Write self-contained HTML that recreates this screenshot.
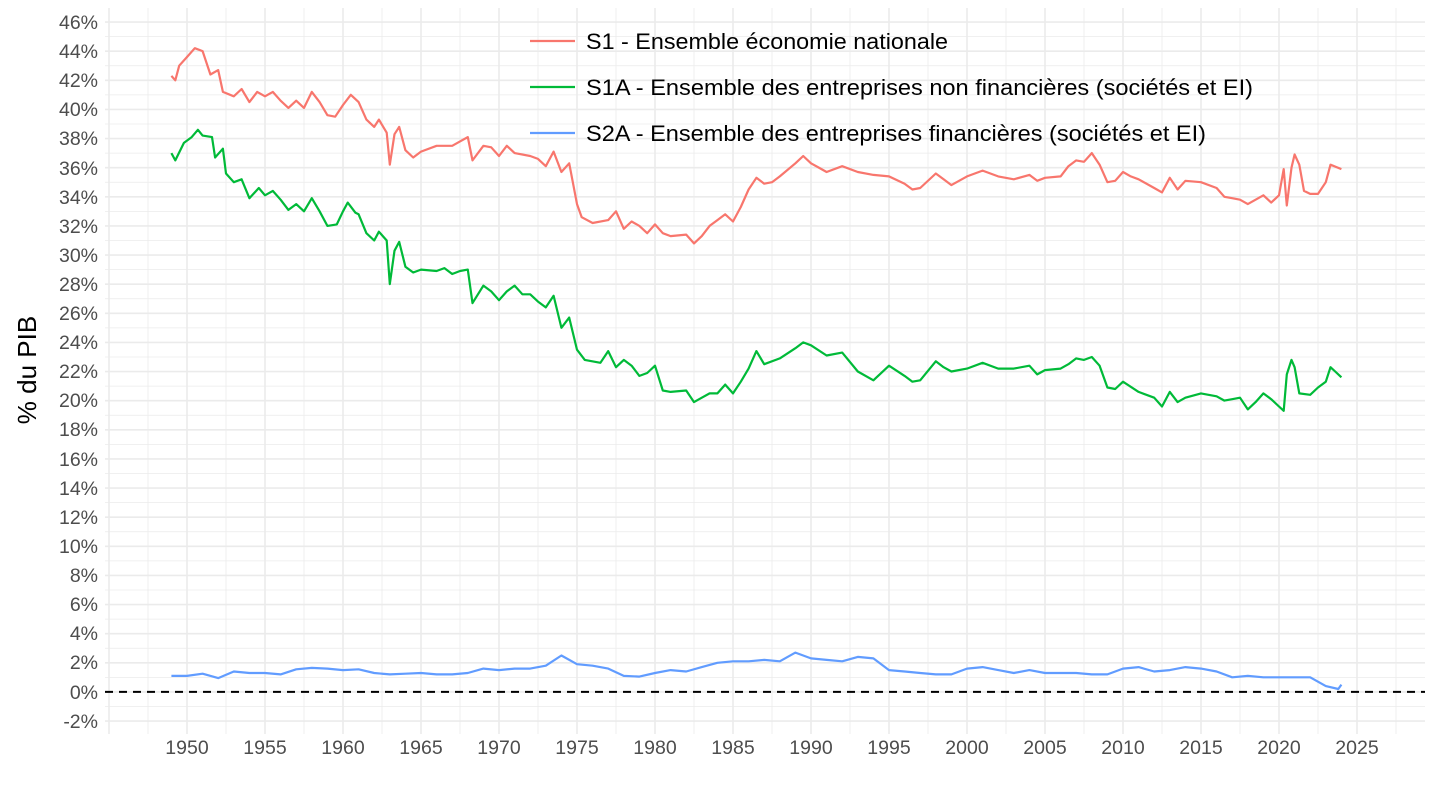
<!DOCTYPE html>
<html><head><meta charset="utf-8"><style>
body{margin:0;background:#fff}
svg{display:block;font-family:"Liberation Sans",Arial,sans-serif}
.yl{font-size:19.5px;fill:#4d4d4d;text-anchor:end}
.xl{font-size:19.5px;fill:#4d4d4d;text-anchor:middle}
.lg{font-size:22px;fill:#000}
</style></head><body>
<svg id="s" width="1440" height="810" viewBox="0 0 1440 810">
<g id="grid"></g>
<line x1="105" x2="1425" y1="691.9" y2="691.9" stroke="#000" stroke-width="2" stroke-dasharray="8,6"/>
<g id="series"></g>
<g>
<text class="yl" x="98" y="29">46%</text><text class="yl" x="98" y="58">44%</text><text class="yl" x="98" y="87">42%</text><text class="yl" x="98" y="116">40%</text><text class="yl" x="98" y="145">38%</text><text class="yl" x="98" y="175">36%</text><text class="yl" x="98" y="204">34%</text><text class="yl" x="98" y="233">32%</text><text class="yl" x="98" y="262">30%</text><text class="yl" x="98" y="291">28%</text><text class="yl" x="98" y="320">26%</text><text class="yl" x="98" y="349">24%</text><text class="yl" x="98" y="378">22%</text><text class="yl" x="98" y="407">20%</text><text class="yl" x="98" y="436">18%</text><text class="yl" x="98" y="466">16%</text><text class="yl" x="98" y="495">14%</text><text class="yl" x="98" y="524">12%</text><text class="yl" x="98" y="553">10%</text><text class="yl" x="98" y="582">8%</text><text class="yl" x="98" y="611">6%</text><text class="yl" x="98" y="640">4%</text><text class="yl" x="98" y="669">2%</text><text class="yl" x="98" y="699">0%</text><text class="yl" x="98" y="728">-2%</text>
</g>
<g>
<text class="xl" x="187" y="754">1950</text><text class="xl" x="265" y="754">1955</text><text class="xl" x="343" y="754">1960</text><text class="xl" x="421" y="754">1965</text><text class="xl" x="499" y="754">1970</text><text class="xl" x="577" y="754">1975</text><text class="xl" x="655" y="754">1980</text><text class="xl" x="733" y="754">1985</text><text class="xl" x="811" y="754">1990</text><text class="xl" x="889" y="754">1995</text><text class="xl" x="967" y="754">2000</text><text class="xl" x="1045" y="754">2005</text><text class="xl" x="1123" y="754">2010</text><text class="xl" x="1201" y="754">2015</text><text class="xl" x="1279" y="754">2020</text><text class="xl" x="1357" y="754">2025</text>
</g>
<text x="36" y="370" font-size="26" fill="#000" text-anchor="middle" transform="rotate(-90 36 370)">% du PIB</text>
<line x1="530" x2="575" y1="41" y2="41" stroke="#F8766D" stroke-width="2.2"/>
<line x1="530" x2="575" y1="87" y2="87" stroke="#00BA38" stroke-width="2.2"/>
<line x1="530" x2="575" y1="133" y2="133" stroke="#619CFF" stroke-width="2.2"/>
<text class="lg" x="586" y="49" textLength="362" lengthAdjust="spacingAndGlyphs">S1 - Ensemble économie nationale</text>
<text class="lg" x="586" y="95" textLength="667" lengthAdjust="spacingAndGlyphs">S1A - Ensemble des entreprises non financières (sociétés et EI)</text>
<text class="lg" x="586" y="141" textLength="620" lengthAdjust="spacingAndGlyphs">S2A - Ensemble des entreprises financières (sociétés et EI)</text>
</svg>
<script>
function X(t){return 187+(t-1950)*15.6}
function Y(v){return 691.9-v*14.5625}
var g=document.getElementById("grid"),h="";
for(var v=-2;v<=46;v+=1){var y=Y(v);h+='<line x1="105" x2="1425" y1="'+y+'" y2="'+y+'" stroke="#ebebeb" stroke-width="'+(v%2==0?1.6:0.8)+'"/>';}
for(var t=1945;t<=2027.5;t+=2.5){var x=X(t);h+='<line x1="'+x+'" x2="'+x+'" y1="8" y2="734" stroke="#ebebeb" stroke-width="'+(t%5==0?1.6:0.8)+'"/>';}
g.innerHTML=h;
var S1=[1949,42.3,1949.25,42,1949.5,43,1950,43.6,1950.5,44.2,1951,44,1951.5,42.4,1952,42.7,1952.3,41.2,1953,40.9,1953.5,41.4,1954,40.5,1954.5,41.2,1955,40.9,1955.5,41.2,1956,40.6,1956.5,40.1,1957,40.6,1957.5,40.1,1958,41.2,1958.5,40.5,1959,39.6,1959.5,39.5,1960,40.3,1960.5,41,1961,40.5,1961.5,39.3,1962,38.8,1962.3,39.3,1962.8,38.4,1963,36.2,1963.3,38.3,1963.6,38.8,1964,37.2,1964.5,36.7,1965,37.1,1966,37.5,1967,37.5,1967.5,37.8,1968,38.1,1968.3,36.5,1969,37.5,1969.5,37.4,1970,36.8,1970.5,37.5,1971,37,1972,36.8,1972.5,36.6,1973,36.1,1973.5,37.1,1974,35.7,1974.5,36.3,1975,33.5,1975.3,32.6,1976,32.2,1977,32.4,1977.5,33,1978,31.8,1978.5,32.3,1979,32,1979.5,31.5,1980,32.1,1980.5,31.5,1981,31.3,1982,31.4,1982.5,30.8,1983,31.3,1983.5,32,1984,32.4,1984.5,32.8,1985,32.3,1985.5,33.3,1986,34.5,1986.5,35.3,1987,34.9,1987.5,35,1988,35.4,1989,36.3,1989.5,36.8,1990,36.3,1990.5,36,1991,35.7,1992,36.1,1993,35.7,1994,35.5,1995,35.4,1996,34.9,1996.5,34.5,1997,34.6,1998,35.6,1998.5,35.2,1999,34.8,2000,35.4,2001,35.8,2002,35.4,2003,35.2,2004,35.5,2004.5,35.1,2005,35.3,2006,35.4,2006.5,36.1,2007,36.5,2007.5,36.4,2008,37,2008.5,36.2,2009,35,2009.5,35.1,2010,35.7,2010.5,35.4,2011,35.2,2012,34.6,2012.5,34.3,2013,35.3,2013.5,34.5,2014,35.1,2015,35,2016,34.6,2016.5,34,2017,33.9,2017.5,33.8,2018,33.5,2018.5,33.8,2019,34.1,2019.5,33.6,2020,34.1,2020.3,35.9,2020.5,33.4,2020.8,36,2021,36.9,2021.3,36.2,2021.6,34.4,2022,34.2,2022.5,34.2,2023,35,2023.3,36.2,2024,35.9];
var S1A=[1949,37,1949.25,36.5,1949.8,37.7,1950.3,38.1,1950.7,38.6,1951,38.2,1951.6,38.1,1951.8,36.7,1952.3,37.3,1952.5,35.6,1953,35,1953.5,35.2,1954,33.9,1954.6,34.6,1955,34.1,1955.5,34.4,1956,33.8,1956.5,33.1,1957,33.5,1957.5,33,1958,33.9,1958.5,33,1959,32,1959.6,32.1,1960,33,1960.3,33.6,1960.8,32.9,1961,32.8,1961.5,31.5,1962,31,1962.3,31.6,1962.8,31,1963,28,1963.3,30.3,1963.6,30.9,1964,29.2,1964.5,28.8,1965,29,1966,28.9,1966.5,29.1,1967,28.7,1967.5,28.9,1968,29,1968.3,26.7,1969,27.9,1969.5,27.5,1970,26.9,1970.5,27.5,1971,27.9,1971.5,27.3,1972,27.3,1972.5,26.8,1973,26.4,1973.5,27.2,1974,25,1974.5,25.7,1975,23.5,1975.5,22.8,1976.5,22.6,1977,23.4,1977.5,22.3,1978,22.8,1978.5,22.4,1979,21.7,1979.5,21.9,1980,22.4,1980.5,20.7,1981,20.6,1982,20.7,1982.5,19.9,1983,20.2,1983.5,20.5,1984,20.5,1984.5,21.1,1985,20.5,1985.5,21.3,1986,22.2,1986.5,23.4,1987,22.5,1988,22.9,1989,23.6,1989.5,24,1990,23.8,1991,23.1,1992,23.3,1993,22,1994,21.4,1995,22.4,1996,21.7,1996.5,21.3,1997,21.4,1998,22.7,1998.5,22.3,1999,22,2000,22.2,2001,22.6,2002,22.2,2003,22.2,2004,22.4,2004.5,21.8,2005,22.1,2006,22.2,2006.5,22.5,2007,22.9,2007.5,22.8,2008,23,2008.5,22.4,2009,20.9,2009.5,20.8,2010,21.3,2011,20.6,2012,20.2,2012.5,19.6,2013,20.6,2013.5,19.9,2014,20.2,2015,20.5,2016,20.3,2016.5,20,2017,20.1,2017.5,20.2,2018,19.4,2018.5,19.9,2019,20.5,2019.5,20.1,2020,19.6,2020.3,19.3,2020.5,21.8,2020.8,22.8,2021,22.3,2021.3,20.5,2022,20.4,2022.5,20.9,2023,21.3,2023.3,22.3,2023.6,22,2024,21.6];
var S2A=[1949,1.1,1950,1.1,1951,1.25,1952,0.95,1953,1.4,1954,1.3,1955,1.3,1956,1.2,1957,1.55,1958,1.65,1959,1.6,1960,1.5,1961,1.55,1962,1.3,1963,1.2,1964,1.25,1965,1.3,1966,1.2,1967,1.2,1968,1.3,1969,1.6,1970,1.5,1971,1.6,1972,1.6,1973,1.8,1974,2.5,1975,1.9,1976,1.8,1977,1.6,1978,1.1,1979,1.05,1980,1.3,1981,1.5,1982,1.4,1983,1.7,1984,2,1985,2.1,1986,2.1,1987,2.2,1988,2.1,1989,2.7,1990,2.3,1991,2.2,1992,2.1,1993,2.4,1994,2.3,1995,1.5,1996,1.4,1997,1.3,1998,1.2,1999,1.2,2000,1.6,2001,1.7,2002,1.5,2003,1.3,2004,1.5,2005,1.3,2006,1.3,2007,1.3,2008,1.2,2009,1.2,2010,1.6,2011,1.7,2012,1.4,2013,1.5,2014,1.7,2015,1.6,2016,1.4,2017,1.0,2018,1.1,2019,1.0,2020,1.0,2021,1.0,2022,1.0,2023,0.4,2023.8,0.2,2024,0.5];
function pl(d,c){var p=[];for(var i=0;i<d.length;i+=2)p.push(X(d[i]).toFixed(1)+","+Y(d[i+1]).toFixed(1));return '<polyline fill="none" stroke="'+c+'" stroke-width="2.2" stroke-linejoin="round" points="'+p.join(" ")+'"/>';}
document.getElementById("series").innerHTML=pl(S1,"#F8766D")+pl(S1A,"#00BA38")+pl(S2A,"#619CFF");
</script>
</body></html>
